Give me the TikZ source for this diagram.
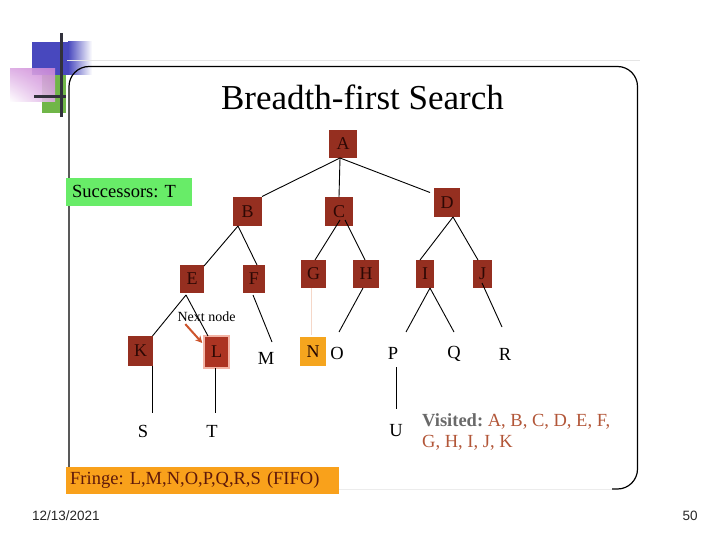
\documentclass[tikz,border=0pt]{standalone}
\usepackage{fontspec}
\setmainfont{Liberation Serif}
\newfontfamily\datefont{Liberation Sans}
\usetikzlibrary{calc,arrows.meta,shadings}
\frenchspacing
\definecolor{nodered}{RGB}{149,47,32}
\definecolor{nodeLred}{RGB}{172,52,34}
\definecolor{nodetext}{RGB}{45,8,4}
\definecolor{fringeorange}{RGB}{249,161,27}
\definecolor{norange}{RGB}{245,165,30}
\definecolor{succgreen}{RGB}{104,236,104}
\definecolor{visitgrey}{RGB}{105,105,105}
\definecolor{visitletter}{RGB}{178,86,56}
\definecolor{fringetext}{RGB}{95,25,10}
\definecolor{arrowred}{RGB}{205,85,45}
\definecolor{decoblue}{RGB}{72,72,190}
\definecolor{decogreen}{RGB}{112,182,72}
\definecolor{decopink}{RGB}{205,135,215}
\definecolor{decobar}{RGB}{50,50,60}
\definecolor{faintline}{RGB}{245,215,200}
\definecolor{glow}{RGB}{243,180,165}
\begin{document}
\begin{tikzpicture}[x=1pt,y=-1pt,
  treebox/.style={fill=nodered, text=nodetext, font=\fontsize{18}{18}\selectfont, minimum height=28pt, inner sep=0pt},
  leaf/.style={text=black, font=\fontsize{18.5}{18.5}\selectfont, inner sep=0pt},
  edge/.style={line width=0.9pt, black},
  frame/.style={line width=1.2pt, black},
]
\useasboundingbox (0,0) rectangle (720,540);

% decoration at top left
\fill[decoblue] (32,42) rectangle (68,75);
\shade[left color=decoblue, right color=white] (68,42) rectangle (92,75);
\fill[decogreen] (42,75) rectangle (66,113);
\shade[opacity=0.9, upper right=decopink, lower left=white, upper left=decopink!70!white, lower right=decopink!70!white] (10,69) rectangle (55,102);
\draw[decobar, line width=3pt] (61,33) -- (61,117);
\draw[decobar, line width=3pt] (34,97) -- (66,97);

% panel frame
\draw[gray!20, line width=1pt] (67,61) -- (640,61);
\draw[frame, rounded corners=20pt] (69,467) -- (69,66.5) -- (637.5,66.5) -- (637.5,489) -- (612,489);
\draw[gray!15, line width=1pt] (612,489) -- (339,489);

% title
\node[anchor=base, font=\fontsize{35}{35}\selectfont] (title) at (362.5,110) {Breadth-first Search};

% successors box
\node[fill=succgreen, anchor=west, minimum height=28pt, text width=114pt, align=left, inner xsep=6pt, inner ysep=0pt, font=\fontsize{18.5}{18.5}\selectfont] (succ) at (66,192) {Successors: T};

% tree nodes
\node[treebox, minimum width=28pt] (A) at (343,144) {A};
\node[treebox, minimum width=29pt, minimum height=29pt] (B) at (247.5,211.5) {B};
\node[treebox, minimum width=28pt, minimum height=29pt] (C) at (339,211.5) {C};
\node[treebox, minimum width=26pt, minimum height=29pt] (D) at (447,202.5) {D};
\node[treebox, minimum width=24pt] (E) at (192,279) {E};
\node[treebox, minimum width=22pt] (F) at (254,279) {F};
\node[treebox, minimum width=25pt] (G) at (313.5,274) {G};
\node[treebox, minimum width=26pt] (H) at (366,274) {H};
\node[treebox, minimum width=18pt] (I) at (425,274) {I};
\node[treebox, minimum width=19pt] (J) at (482.5,274) {J};
\node[treebox, minimum width=25pt, minimum height=30pt] (K) at (140.5,351) {K};
\node[treebox, fill=nodeLred, minimum width=25pt, minimum height=32pt, draw=glow, line width=1.5pt] (L) at (216.5,352) {L};
\node[treebox, fill=norange, text=nodetext!80!black, minimum width=26pt, minimum height=29pt] (N) at (313,351.5) {N};

\node[leaf] (M) at (266,358) {M};
\node[leaf] (O) at (337,353) {O};
\node[leaf] (P) at (393,353) {P};
\node[leaf] (Q) at (454,354) {Q};
\node[leaf] (R) at (505,354) {R};
\node[leaf] (S) at (143,431) {S};
\node[leaf] (T) at (212,431) {T};
\node[leaf] (U) at (396,431) {U};

% connectors
\draw[edge] ($(A)+(-3,14)$) -- ($(B)+(14.5,-15)$);
\draw[edge] ($(A)+(-3,14)$) -- ($(C)+(0,-14.5)$);
\draw[edge] ($(A)+(-3,14)$) -- ($(D)+(-17,-10)$);
\draw[edge] ($(B)+(-9.5,14.5)$) -- ($(E)+(12,-13)$);
\draw[edge] ($(B)+(-9.5,14.5)$) -- ($(F)+(3,-14)$);
\draw[edge] ($(C)+(1,8.5)$) -- ($(G)+(1.5,-14)$);
\draw[edge] ($(C)+(6,8.5)$) -- ($(H)+(-1,-14)$);
\draw[edge] ($(D)+(6,14.5)$) -- ($(I)+(-5,-14)$);
\draw[edge] ($(D)+(6,14.5)$) -- ($(J)+(-4.5,-14)$);
\draw[edge] ($(E)+(-6,16)$) -- ($(K)+(12,-15)$);
\draw[edge] ($(E)+(-6,16)$) -- ($(L)+(-8.5,-16)$);
\draw[edge] ($(F)+(-1,16)$) -- ($(M)+(6,-16)$);
\draw[faintline, line width=0.8pt] ($(G)+(-2.5,14)$) -- ($(N)+(-2,-16.5)$);
\draw[edge] ($(H)+(-3,14)$) -- ($(O)+(2,-21)$);
\draw[edge] ($(I)+(5,14)$) -- ($(P)+(13,-21)$);
\draw[edge] ($(I)+(5,14)$) -- ($(Q)+(0,-22)$);
\draw[edge] ($(J)+(-0.5,9)$) -- ($(R)+(-3,-27)$);
\draw[edge] ($(K)+(11.5,15)$) -- ($(S)+(9,-18)$);
\draw[edge] ($(L)+(-1.5,16)$) -- ($(T)+(3,-18)$);
\draw[edge] ($(P)+(3,14)$) -- ($(U)+(0,-22)$);

% next node label and arrow
\node[inner sep=0pt, font=\fontsize{14}{14}\selectfont] (nextlbl) at (206.5,317) {Next node};
\draw[arrowred, line width=2pt, -{Stealth[length=7pt,width=7pt]}] ($(nextlbl.south west)+(8,2)$) -- ($(L.west)+(-1,-9)$);

% visited
\node[anchor=north west, align=left, inner sep=0pt, font=\fontsize{18.5}{21}\selectfont] (visited) at (422,413)
  {\textcolor{visitgrey}{\textbf{Visited:}} \textcolor{visitletter}{A, B, C, D, E, F,}\\\textcolor{visitletter}{G, H, I, J, K}};

% fringe
\node[fill=fringeorange, anchor=west, minimum height=27pt, text width=265pt, align=left, inner xsep=4pt, inner ysep=0pt, text=fringetext, font=\fontsize{18.5}{18.5}\selectfont] (fringe) at (66,480.5) {Fringe: L,M,N,O,P,Q,R,S (FIFO)};

% footer
\node[anchor=west, inner sep=0pt, text=black!85, font=\datefont\fontsize{13.5}{13.5}\selectfont] (date) at (32,516) {12/13/2021};
\node[inner sep=0pt, text=black!85, font=\datefont\fontsize{13.5}{13.5}\selectfont] (page) at (690,516) {50};
\end{tikzpicture}
\end{document}
